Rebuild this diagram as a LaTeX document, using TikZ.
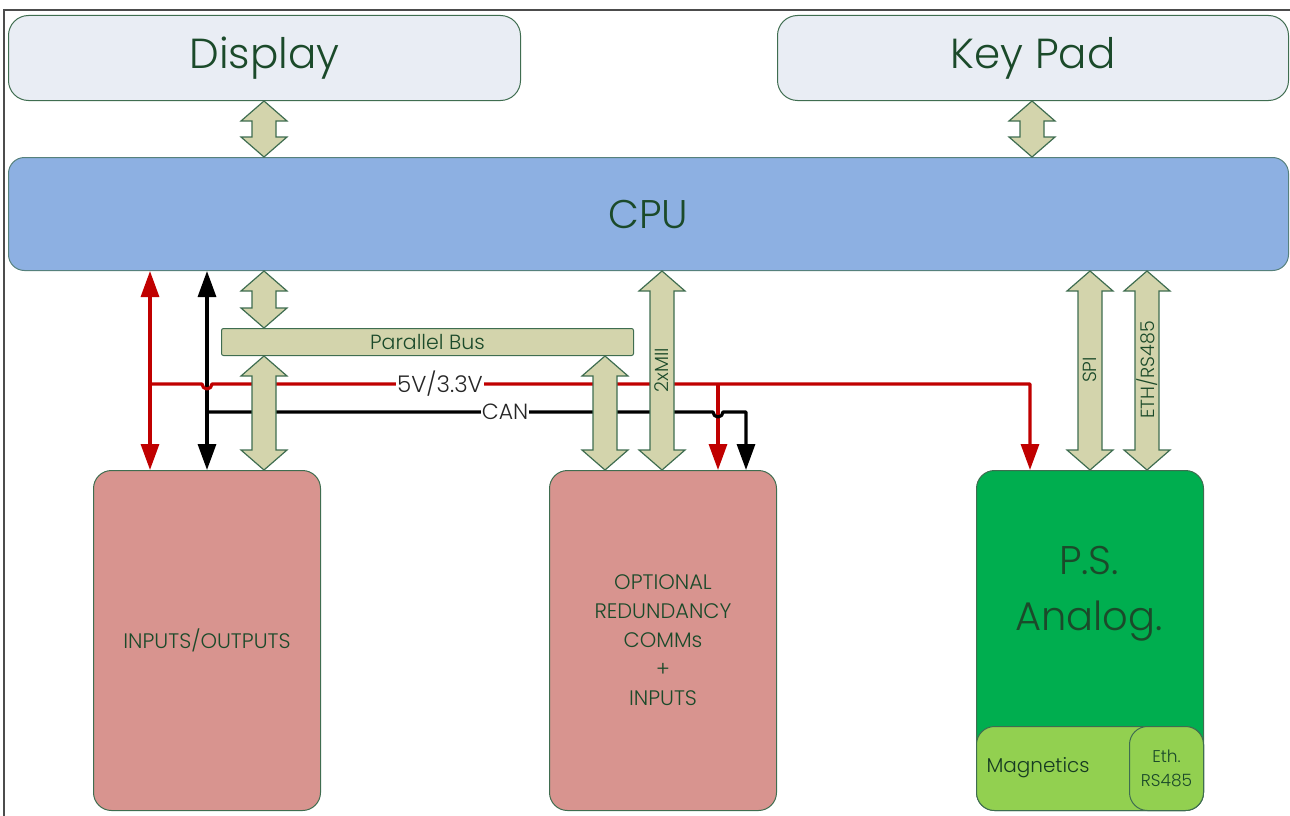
\documentclass[tikz,border=0pt]{standalone}
\usepackage{fontspec}
\setmainfont{Poppins Light}
\usetikzlibrary{arrows.meta,calc}
\definecolor{bgreen}{HTML}{3F6D50}
\definecolor{tgreen}{HTML}{1B4A2A}
\definecolor{dispfill}{HTML}{E9EDF4}
\definecolor{cpufill}{HTML}{8DB0E2}
\definecolor{pinkfill}{HTML}{D8948F}
\definecolor{psfill}{HTML}{00AE4F}
\definecolor{magfill}{HTML}{92D050}
\definecolor{khaki}{HTML}{D3D4AC}
\definecolor{pwrred}{HTML}{C00000}
\tikzset{
  box/.style={draw=bgreen, line width=1pt, inner sep=0pt, anchor=north west, text=tgreen, align=center},
  fat/.style={draw=bgreen, fill=khaki, line width=1.2pt, line join=miter,
    to path={let \p1=(\tikztostart), \p2=(\tikztotarget) in
      (\x1,\y1) -- (\x1+23pt,\y1-20pt) -- (\x1+12pt,\y1-20pt) -- (\x1+12pt,\y2+20pt)
      -- (\x1+23pt,\y2+20pt) -- (\x1,\y2) -- (\x1-23pt,\y2+20pt) -- (\x1-12pt,\y2+20pt)
      -- (\x1-12pt,\y1-20pt) -- (\x1-23pt,\y1-20pt) -- cycle}},
  wire/.style={line width=3.2pt},
  tip/.style={-{Triangle[width=18pt,length=26pt]}},
  dtip/.style={{Triangle[width=18pt,length=26pt]}-{Triangle[width=18pt,length=26pt]}},
  fatlabel/.style={rotate=90, text=tgreen, font=\fontsize{19}{19}\selectfont, inner sep=0pt},
}
\begin{document}
\begin{tikzpicture}[x=1pt,y=-1pt]
\useasboundingbox (0,0) rectangle (1290,816);
\draw[gray!60!black, line width=1.5pt] (4,816) -- (4,10) -- (1290,10);
% boxes
\node[box, fill=dispfill, rounded corners=20pt, minimum width=512pt, minimum height=85pt,
  font=\fontsize{42}{42}\selectfont] (disp) at (8,15) {Display};
\node[box, fill=dispfill, rounded corners=20pt, minimum width=511pt, minimum height=85pt,
  font=\fontsize{42}{42}\selectfont] (key) at (777,15) {Key Pad};
\node[box, fill=cpufill, draw=bgreen!70!cpufill, rounded corners=16pt, minimum width=1280pt, minimum height=113pt,
  font=\fontsize{40}{40}\selectfont] (cpu) at (8,157) {CPU};
\node[box, fill=khaki, rounded corners=2pt, minimum width=412pt, minimum height=27pt,
  font=\fontsize{20.5}{20.5}\selectfont] (pbus) at (221,328) {Parallel Bus};
\node[box, fill=pinkfill, rounded corners=18pt, minimum width=227pt, minimum height=340pt,
  font=\fontsize{21}{21}\selectfont] (io) at (93,470) {INPUTS/OUTPUTS};
\node[box, fill=pinkfill, rounded corners=18pt, minimum width=227pt, minimum height=340pt,
  font=\fontsize{21}{29}\selectfont] (orc) at (549,470) {OPTIONAL\\REDUNDANCY\\COMMs\\+\\INPUTS};
\node[box, fill=psfill, rounded corners=18pt, minimum width=227pt, minimum height=340pt] (ps) at (976,470) {};
\node[text=tgreen, align=center, font=\fontsize{40}{56}\selectfont] (pstext) at (1089,594) {P.S.\\Analog.};
\node[box, fill=magfill, rounded corners=18pt, minimum width=227pt, minimum height=84pt] (mag) at (976,726) {};
\node[anchor=west, text=tgreen!80!black, font=\fontsize{20}{20}\selectfont] (magtext) at (983,768) {Magnetics};
\node[box, fill=magfill, rounded corners=18pt, minimum width=74pt, minimum height=84pt,
  font=\fontsize{17}{24}\selectfont] (eth) at (1129,726) {Eth.\\RS485};
% x positions
\coordinate (xd) at (264,0);
\coordinate (xk) at (1032,0);
\coordinate (xp1) at (264,0);
\coordinate (xp2) at (605,0);
\coordinate (xm) at (662,0);
\coordinate (xs) at (1090,0);
\coordinate (xe) at (1147,0);
\coordinate (xr) at (150,0);
\coordinate (xb) at (207,0);
\coordinate (xr2) at (718,0);
\coordinate (xb2) at (746,0);
\coordinate (xr3) at (1030,0);
\coordinate (rj) at (150,384);
\coordinate (bj) at (207,412);
% wires
\draw[wire, pwrred, dtip] (xr |- cpu.south) -- (xr |- io.north);
\draw[wire, black, dtip] (xb |- cpu.south) -- (xb |- io.north);
\draw[wire, pwrred, tip, line join=round] (rj) -- (202,384) arc[start angle=180, end angle=360, radius=5pt]
  -- (1030,384) -- (xr3 |- ps.north);
\draw[wire, pwrred, tip] (718,384) -- (xr2 |- orc.north);
\draw[wire, black, tip, line join=round] (bj) -- (713,412) arc[start angle=180, end angle=360, radius=5pt]
  -- (746,412) -- (xb2 |- orc.north);
\node[fill=white, inner sep=1pt, text=black!85, font=\fontsize{23}{23}\selectfont] (v) at (440,384) {5V/3.3V};
\node[fill=white, inner sep=1pt, text=black!85, font=\fontsize{22}{22}\selectfont] (can) at (505,412) {CAN};
% fat arrows
\draw[fat] (xd |- disp.south) to (xd |- cpu.north);
\draw[fat] (xk |- key.south) to (xk |- cpu.north);
\draw[fat] (xp1 |- cpu.south) to (xp1 |- pbus.north);
\draw[fat] (xp1 |- pbus.south) to (xp1 |- io.north);
\draw[fat] (xp2 |- pbus.south) to (xp2 |- orc.north);
\draw[fat] (xm |- cpu.south) to (xm |- orc.north);
\draw[fat] (xs |- cpu.south) to (xs |- ps.north);
\draw[fat] (xe |- cpu.south) to (xe |- ps.north);
\node[fatlabel] (l1) at (662,370) {2xMII};
\node[fatlabel] (l2) at (1090,370) {SPI};
\node[fatlabel] (l3) at (1147,370) {ETH/RS485};
\end{tikzpicture}
\end{document}
